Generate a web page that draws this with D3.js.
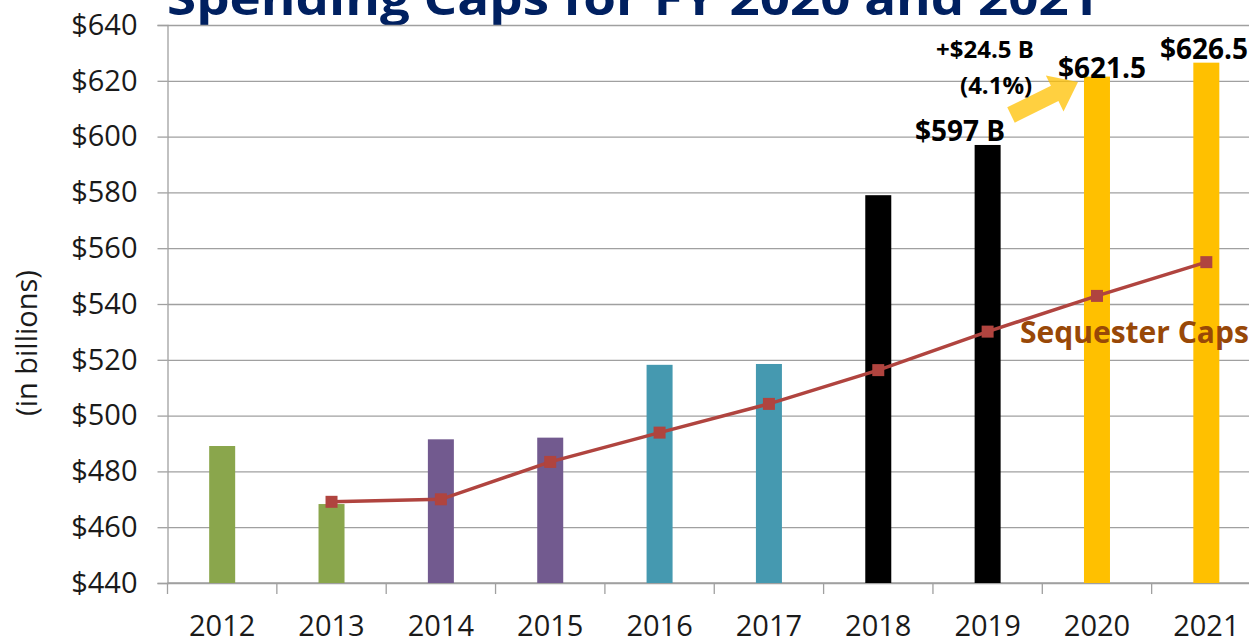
<!doctype html>
<html lang="en">
<head>
<meta charset="utf-8">
<title>Spending Caps for FY 2020 and 2021</title>
<script src="https://cdn.jsdelivr.net/npm/d3@7"></script>
<style>
  body { margin: 0; background: #fff; }
  svg { display: block; font-family: "Open Sans", "Noto Sans", sans-serif; }
</style>
</head>
<body>
<script>
// fiscal years and the budget deal that set each cap
var years = ["2012", "2013", "2014", "2015", "2016", "2017", "2018", "2019", "2020", "2021"];
var deals = ["BCA", "BCA", "BBA13", "BBA13", "BBA15", "BBA15", "BBA18", "BBA18", "BBA19", "BBA19"];
// enacted caps ($ billions)
var caps = [489.1, 468.3, 491.5, 492.1, 518.2, 518.5, 579, 597, 621.5, 626.5];
// sequester-level caps (from 2013 on)
var seqYears = ["2013", "2014", "2015", "2016", "2017", "2018", "2019", "2020", "2021"];
var seqCaps = [469.1, 470, 483.4, 493.9, 504.2, 516.3, 530.1, 542.9, 555];
var yTicks = [440, 460, 480, 500, 520, 540, 560, 580, 600, 620, 640];

var width = 1249, height = 641;
var plotLeft = 167.5, plotRight = 1261, plotTop = 25, plotBottom = 583;

var svg = d3.select("body").append("svg")
    .attr("width", width)
    .attr("height", height);

var x = d3.scaleBand().domain(years).range([plotLeft, plotRight]).padding(0);
var y = d3.scaleLinear().domain([440, 640]).range([plotBottom, plotTop]);
var color = d3.scaleOrdinal()
    .domain(["BCA", "BBA13", "BBA15", "BBA18", "BBA19"])
    .range(["#8aa64c", "#725a8f", "#4599b0", "#000000", "#ffc000"]);

// title, mostly cut off by the top edge
svg.append("text")
    .attr("x", 167)
    .attr("y", 15)
    .attr("font-size", 46)
    .attr("font-weight", "bold")
    .attr("fill", "#002060")
    .attr("textLength", 932)
    .attr("lengthAdjust", "spacingAndGlyphs")
    .text("Spending Caps for FY 2020 and 2021");

// horizontal gridlines
svg.append("g")
    .attr("transform", "translate(" + plotLeft + ",0)")
    .call(d3.axisLeft(y).tickValues(yTicks).tickSize(-(width - plotLeft)).tickFormat(""))
    .call(function(g) {
        g.select(".domain").remove();
        g.selectAll("line").attr("stroke", "#a0a0a0").attr("stroke-width", 1.3);
    });

// y axis
svg.append("g")
    .attr("transform", "translate(" + plotLeft + ",0)")
    .call(d3.axisLeft(y).tickValues(yTicks).tickSize(10).tickPadding(20)
        .tickFormat(function(d) { return "$" + d; }))
    .call(function(g) {
        g.select(".domain").attr("stroke", "#a0a0a0").attr("stroke-width", 1.3);
        g.selectAll("line").attr("stroke", "#a0a0a0").attr("stroke-width", 1.3);
        g.selectAll("text")
            .attr("font-size", 29)
            .attr("fill", "#1a1a1a")
            .attr("font-family", "Open Sans, sans-serif");
    });

// x axis: ticks sit on the band boundaries
var xAxis = svg.append("g").attr("transform", "translate(0," + plotBottom + ")");
xAxis.append("line")
    .attr("x1", plotLeft).attr("x2", width)
    .attr("stroke", "#a0a0a0").attr("stroke-width", 1.3);
xAxis.selectAll("line.tick")
    .data(years)
    .enter()
    .append("line")
    .attr("class", "tick")
    .attr("x1", function(d) { return x(d); })
    .attr("x2", function(d) { return x(d); })
    .attr("y1", 0).attr("y2", 11)
    .attr("stroke", "#a0a0a0").attr("stroke-width", 1.3);
xAxis.selectAll("text")
    .data(years)
    .enter()
    .append("text")
    .attr("x", function(d) { return x(d) + x.bandwidth() / 2; })
    .attr("y", 53)
    .attr("text-anchor", "middle")
    .attr("font-size", 29)
    .attr("fill", "#1a1a1a")
    .text(function(d) { return d; });

// y axis title
svg.append("text")
    .attr("transform", "translate(37,343) rotate(-90)")
    .attr("text-anchor", "middle")
    .attr("font-size", 29)
    .attr("fill", "#1a1a1a")
    .text("(in billions)");

// bars
var barW = 26;
svg.selectAll("rect.bar")
    .data(caps)
    .enter()
    .append("rect")
    .attr("class", "bar")
    .attr("x", function(d, i) { return x(years[i]) + x.bandwidth() / 2 - barW / 2; })
    .attr("y", function(d) { return y(d); })
    .attr("width", barW)
    .attr("height", function(d) { return y(440) - y(d); })
    .attr("fill", function(d, i) { return color(deals[i]); });

// sequester line
var line = d3.line()
    .x(function(d, i) { return x(seqYears[i]) + x.bandwidth() / 2; })
    .y(function(d) { return y(d); });
svg.append("path")
    .datum(seqCaps)
    .attr("d", line)
    .attr("fill", "none")
    .attr("stroke", "#b0443f")
    .attr("stroke-width", 3.5);
svg.selectAll("rect.marker")
    .data(seqCaps)
    .enter()
    .append("rect")
    .attr("class", "marker")
    .attr("x", function(d, i) { return x(seqYears[i]) + x.bandwidth() / 2 - 6; })
    .attr("y", function(d) { return y(d) - 6; })
    .attr("width", 12)
    .attr("height", 12)
    .attr("fill", "#b0443f");

svg.append("text")
    .attr("x", 1020)
    .attr("y", 343)
    .attr("font-size", 30)
    .attr("font-weight", "bold")
    .attr("fill", "#984807")
    .text("Sequester Caps");

// arrow from FY2019 to FY2020
var tail = [1011, 115], tip = [1078, 82];
var ang = Math.atan2(tip[1] - tail[1], tip[0] - tail[0]) * 180 / Math.PI;
var len = Math.hypot(tip[0] - tail[0], tip[1] - tail[1]);
svg.append("path")
    .attr("transform", "translate(" + tail[0] + "," + tail[1] + ") rotate(" + ang + ")")
    .attr("d", "M0,-8.5 L" + (len - 26) + ",-8.5 L" + (len - 26) + ",-20 L" + len + ",0 L" +
        (len - 26) + ",20 L" + (len - 26) + ",8.5 L0,8.5 Z")
    .attr("fill", "#ffc000")
    .attr("opacity", 0.75);

// value labels
function label(txt, xPos, yPos, size) {
    svg.append("text")
        .attr("x", xPos)
        .attr("y", yPos)
        .attr("font-size", size)
        .attr("font-weight", "bold")
        .attr("fill", "#000")
        .text(txt);
}
label("$597 B", 915, 141, 28);
label("+$24.5 B", 936, 58, 24);
label("(4.1%)", 960, 94, 24);
label("$621.5", 1058, 78, 28);
label("$626.5", 1160, 59, 28);
</script>
</body>
</html>
